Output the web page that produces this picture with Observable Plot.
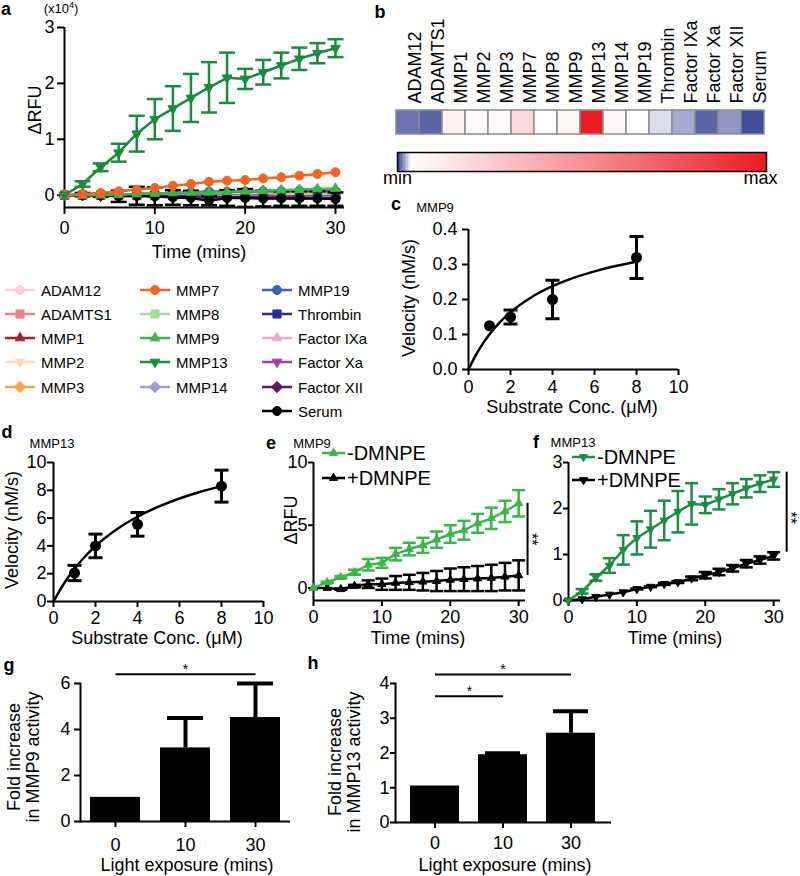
<!DOCTYPE html>
<html><head><meta charset="utf-8">
<script src="https://cdn.jsdelivr.net/npm/d3@7"></script>
<script src="https://cdn.jsdelivr.net/npm/@observablehq/plot@0.6"></script>
<style>
html,body{margin:0;padding:0;background:#fff;}
#fig{position:relative;width:800px;height:876px;overflow:hidden;font-family:"Liberation Sans",Arial,Helvetica,sans-serif;color:#000;background:#fff;}
.t{position:absolute;white-space:nowrap;}
</style></head>
<body><div id="fig"></div>
<script>
// ---------------- DATA ----------------
const times = [0,2,4,6,8,10,12,14,16,18,20,22,24,26,28,30];
const proteases = ["ADAM12","ADAMTS1","MMP1","MMP2","MMP3","MMP7","MMP8","MMP9","MMP13","MMP14","MMP19","Thrombin","Factor IXa","Factor Xa","Factor XII","Serum"];
const proteaseColors = ["#f7d2d7","#f0808a","#a3202c","#fddcc0","#f7a246","#f26522","#a8d89c","#3cb54a","#1b8a3f","#9c9cd8","#3d5fb4","#2b2e86","#eaa9d2","#a63f9f","#5e1a5e","#000000"];
const proteaseSymbols = ["circle","square","triUp","triDown","diamond","circle","square","triUp","triDown","diamond","circle","square","triUp","triDown","diamond","circle"];

// panel a: ΔRFU (x10^4) vs time
const rfuADAM12    = [0,0,0,0,0,-0.01,-0.01,-0.01,-0.02,-0.02,-0.02,-0.03,-0.03,-0.03,-0.03,-0.04];
const rfuADAMTS1   = [0,0,0,0,-0.01,-0.01,-0.02,-0.02,-0.02,-0.03,-0.03,-0.03,-0.04,-0.04,-0.04,-0.05];
const rfuMMP1      = [0,0,0,0.01,0.01,0.01,0.01,0.02,0.02,0.02,0.02,0.02,0.03,0.03,0.03,0.03];
const rfuMMP2      = [0,0,0,0,0.01,0.01,0.01,0.01,0.01,0.01,0.02,0.02,0.02,0.02,0.02,0.02];
const rfuMMP3      = [0,0,0,0,0,0.01,0.01,0.01,0.01,0.01,0.01,0.01,0.02,0.02,0.02,0.02];
const rfuMMP7      = [0,0.02,0.04,0.07,0.1,0.13,0.17,0.2,0.24,0.26,0.27,0.3,0.32,0.35,0.38,0.41];
const rfuMMP8      = [0,0,0,0,0,0,0,0,0.01,0.01,0,0,0.01,0.01,0.01,0.01];
const rfuMMP9      = [0,0,0,0.01,0.02,0.03,0.04,0.05,0.05,0.06,0.07,0.08,0.09,0.1,0.11,0.12];
const rfuMMP13     = [0,0.2,0.5,0.76,1.1,1.36,1.55,1.74,1.93,2.1,2.08,2.2,2.32,2.44,2.54,2.63];
const rfuMMP14     = [0,0,0.01,0.01,0.02,0.03,0.04,0.05,0.07,0.07,0.07,0.08,0.08,0.08,0.09,0.09];
const rfuMMP19     = [0,0,0.01,0.01,0.02,0.03,0.04,0.05,0.06,0.06,0.06,0.07,0.07,0.08,0.08,0.08];
const rfuThrombin  = [0,0,0,0,0,0,-0.01,-0.01,-0.01,-0.01,-0.01,-0.01,-0.02,-0.02,-0.02,-0.02];
const rfuFactorIXa = [0,0,0,0,-0.01,-0.01,-0.01,-0.02,-0.02,-0.02,-0.02,-0.03,-0.03,-0.03,-0.03,-0.03];
const rfuFactorXa  = [0,0,-0.01,-0.01,-0.02,-0.02,-0.03,-0.03,-0.04,-0.04,-0.05,-0.05,-0.05,-0.06,-0.06,-0.06];
const rfuFactorXII = [0,0,-0.01,-0.01,-0.01,-0.02,-0.02,-0.02,-0.03,-0.03,-0.03,-0.04,-0.04,-0.04,-0.05,-0.05];
const rfuSerum     = [0,0.01,0,-0.02,-0.01,-0.02,-0.04,-0.05,-0.1,-0.05,-0.05,-0.06,-0.06,-0.06,-0.06,-0.07];
const errMMP13     = [0,0.05,0.07,0.16,0.32,0.36,0.4,0.43,0.45,0.45,0.18,0.22,0.23,0.2,0.18,0.16];
const errSerum     = [0,0.03,0.03,0.1,0.16,0.16,0.13,0.13,0.08,0.14,0.16,0.14,0.13,0.13,0.13,0.12];

// panel b: relative activity heat map
const heatValues = [-0.028,-0.031,0.053,0.022,0.022,0.163,0,0.044,1,0.04,0,-0.007,-0.017,-0.031,-0.021,-0.036];
const heatMin = -0.04, heatMax = 1;
const heatColors = ["#2b3990","#ffffff","#ec1c24"];

// panels c, d: Michaelis-Menten
const concs = [1,2,4,8];
const mmp9Vel = [0.125,0.15,0.2,0.32];
const mmp9Err = [0,0.02,0.055,0.06];
const mmp13Vel = [2.05,4.0,5.55,8.3];
const mmp13Err = [0.55,0.85,0.85,1.15];
const fitConc = [0,0.25,0.5,1,1.5,2,3,4,5,6,7,8];
const mmp9Fit = [0,0.0304,0.0569,0.1007,0.1354,0.1636,0.2066,0.2379,0.2617,0.2804,0.2955,0.3079];
const mmp13Fit = [0,0.681,1.294,2.353,3.237,3.985,5.182,6.099,6.823,7.409,7.893,8.300];

// panel e: MMP9 ± DMNPE
const mmp9Minus    = [0,0.45,0.85,1.25,1.85,2.0,2.7,3.1,3.4,3.85,4.3,4.6,5.15,5.55,6.1,6.75];
const mmp9MinusErr = [0,0.05,0.1,0.2,0.46,0.4,0.5,0.5,0.6,0.65,0.7,0.75,0.75,0.85,0.85,1.05];
const mmp9Plus     = [0,0,-0.1,0.15,0.3,0.3,0.4,0.45,0.5,0.55,0.65,0.7,0.75,0.8,0.9,1.0];
const mmp9PlusErr  = [0,0,0.05,0.1,0.3,0.45,0.55,0.6,0.7,0.8,0.9,0.95,1.0,1.05,1.1,1.2];

// panel f: MMP13 ± DMNPE (−DMNPE = MMP13 series of panel a)
const mmp13Plus    = [0,0.03,0.08,0.13,0.18,0.25,0.3,0.36,0.4,0.48,0.55,0.62,0.7,0.8,0.88,0.97];
const mmp13PlusErr = [0,0,0,0,0,0.01,0.01,0.02,0.02,0.04,0.07,0.07,0.07,0.08,0.08,0.08];

// panels g, h: fold increase
const exposure = ["0","10","30"];
const foldMMP9 = [1.05,3.2,4.52];
const foldMMP9Err = [0,1.3,1.48];
const foldMMP13 = [1.05,1.95,2.57];
const foldMMP13Err = [0,0.04,0.63];

// ---------------- HELPERS ----------------
const fig = document.getElementById("fig");
const FONT = '"Liberation Sans", Arial, Helvetica, sans-serif';
const baseStyle = {fontFamily: FONT, fontSize: "18px", color: "black", background: "transparent", overflow: "visible"};
const plain = d => String(d);

const S = (draw) => ({draw});
const symbols = {
  circle: S((c, s) => { const r = Math.sqrt(s / Math.PI); c.moveTo(r, 0); c.arc(0, 0, r, 0, 2 * Math.PI); }),
  square: S((c, s) => { const r = Math.sqrt(s / Math.PI) * 0.9; c.rect(-r, -r, 2 * r, 2 * r); }),
  triUp: S((c, s) => { const r = Math.sqrt(s / Math.PI) * 1.25; c.moveTo(0, -r); c.lineTo(r * 0.866, r * 0.5); c.lineTo(-r * 0.866, r * 0.5); c.closePath(); }),
  triDown: S((c, s) => { const r = Math.sqrt(s / Math.PI) * 1.25; c.moveTo(0, r); c.lineTo(r * 0.866, -r * 0.5); c.lineTo(-r * 0.866, -r * 0.5); c.closePath(); }),
  diamond: S((c, s) => { const r = Math.sqrt(s / Math.PI) * 1.25; c.moveTo(0, -r); c.lineTo(r, 0); c.lineTo(0, r); c.lineTo(-r, 0); c.closePath(); }),
  cap: S((c, s) => { const r = Math.sqrt(s / Math.PI); c.moveTo(-r, 0); c.lineTo(r, 0); })
};

function addPlot(opts, left, top) {
  const el = Plot.plot({...opts, style: baseStyle});
  el.style.position = "absolute";
  el.style.left = left + "px";
  el.style.top = top + "px";
  fig.appendChild(el);
  return el;
}

function label(html, x, y, {size = 18, weight = 400, rotate = 0, anchor = "middle", lineHeight = 1, align = "center"} = {}) {
  const d = document.createElement("div");
  d.className = "t";
  d.innerHTML = html;
  Object.assign(d.style, {left: x + "px", top: y + "px", fontSize: size + "px", fontWeight: weight, lineHeight: String(lineHeight), textAlign: align});
  const tx = anchor === "start" ? "0%" : anchor === "end" ? "-100%" : "-50%";
  d.style.transform = `translate(${tx},-50%)` + (rotate ? ` rotate(${rotate}deg)` : "");
  fig.appendChild(d);
}

function swatch(x, y, color, symbol, len, r, sw) {
  const s = document.createElementNS("http://www.w3.org/2000/svg", "svg");
  s.setAttribute("width", len); s.setAttribute("height", 16);
  Object.assign(s.style, {position: "absolute", left: x + "px", top: (y - 8) + "px", overflow: "visible"});
  s.innerHTML = `<line x1="0" x2="${len}" y1="8" y2="8" stroke="${color}" stroke-width="${sw}"/>` +
    `<path transform="translate(${len / 2},8)" d="${d3.symbol(symbol, r * r * Math.PI)()}" fill="${color}" stroke="${color}" stroke-width="1"/>`;
  fig.appendChild(s);
}

function seriesMarks(rows, color, symbol, {r = 4.5, capR = 8, sw = 2.5, x = "t"} = {}) {
  const withErr = rows.filter(d => d.e > 0);
  return [
    Plot.ruleX(withErr, {x, y1: d => d.v - d.e, y2: d => d.v + d.e, stroke: color, strokeWidth: sw}),
    Plot.dot(withErr, {x, y: d => d.v + d.e, symbol: symbols.cap, r: capR, fill: "none", stroke: color, strokeWidth: sw}),
    Plot.dot(withErr, {x, y: d => d.v - d.e, symbol: symbols.cap, r: capR, fill: "none", stroke: color, strokeWidth: sw}),
    Plot.line(rows, {x, y: "v", stroke: color, strokeWidth: sw}),
    Plot.dot(rows, {x, y: "v", symbol, r, fill: color, stroke: color, strokeWidth: 1})
  ];
}
const rowsOf = (vals, errs) => times.map((t, i) => ({t, v: vals[i], e: errs ? errs[i] : 0}));

// ---------------- PANEL a ----------------
const rfuSeries = [rfuADAM12,rfuADAMTS1,rfuMMP1,rfuMMP2,rfuMMP3,rfuMMP7,rfuMMP8,rfuMMP9,rfuMMP13,rfuMMP14,rfuMMP19,rfuThrombin,rfuFactorIXa,rfuFactorXa,rfuFactorXII,rfuSerum];
const rfuErrors = proteases.map(n => n === "MMP13" ? errMMP13 : n === "Serum" ? errSerum : null);
const aOrder = [0,1,2,3,4,6,9,10,11,12,13,14,15,7,5,8];

addPlot({
  width: 360, height: 250, marginLeft: 64, marginRight: 16, marginTop: 27, marginBottom: 43,
  x: {domain: [0, 31]}, y: {domain: [-0.22, 3]},
  marks: [
    Plot.ruleY([-0.22], {strokeWidth: 2}),
    Plot.ruleX([0], {strokeWidth: 2}),
    Plot.axisX({ticks: [0,10,20,30], tickFormat: plain, tickSize: 7, tickPadding: 7, strokeWidth: 2, label: null}),
    Plot.axisY({ticks: [0,1,2,3], tickFormat: plain, tickSize: 7, tickPadding: 3, strokeWidth: 2, label: null}),
    ...aOrder.flatMap(k => seriesMarks(rowsOf(rfuSeries[k], rfuErrors[k]), proteaseColors[k], symbols[proteaseSymbols[k]], {r: 4.5, capR: 8}))
  ]
}, 0, 0);
label("(x10<span style='font-size:9px;position:relative;top:-5px'>4</span>)", 61, 8, {size: 13});
label("ΔRFU", 35, 110, {rotate: -90});
label("Time (mins)", 199, 252);
label("a", 6, 9, {weight: 700});

// legend of panel a
const legendCols = [5, 140, 262];
const legendRowY = [290, 314, 338, 362, 387, 411];
proteases.forEach((name, k) => {
  const col = k < 5 ? 0 : k < 10 ? 1 : 2;
  const row = k < 5 ? k : k < 10 ? k - 5 : k - 10;
  swatch(legendCols[col], legendRowY[row], proteaseColors[k], symbols[proteaseSymbols[k]], 30, 4.5, 2.5);
  label(name, legendCols[col] + 36, legendRowY[row], {size: 15, anchor: "start"});
});

// ---------------- PANEL b ----------------
const colorScale = {type: "linear", domain: [heatMin, 0, heatMax], range: heatColors, interpolate: "rgb"};
const heatRows = proteases.map((name, i) => ({name, value: heatValues[i]}));
addPlot({
  width: 400, height: 140, marginLeft: 13, marginRight: 13, marginTop: 110, marginBottom: 6,
  x: {type: "band", domain: proteases, padding: 0, axis: null},
  color: colorScale,
  marks: [
    Plot.cell(heatRows, {x: "name", fill: "value", stroke: "#8c8c8c", strokeWidth: 1.5}),
    Plot.text(proteases, {x: d => d, frameAnchor: "top", dy: -7, rotate: -90, textAnchor: "start", fontSize: 18, fontFamily: FONT})
  ]
}, 380, 0);
label("b", 380, 12, {weight: 700});

// colour bar
const rampN = 240;
const ramp = d3.range(rampN).map(i => ({a: heatMin + (heatMax - heatMin) * i / rampN, b: heatMin + (heatMax - heatMin) * (i + 1.2) / rampN}));
addPlot({
  width: 400, height: 60, marginLeft: 17, marginRight: 14, marginTop: 12, marginBottom: 29,
  x: {domain: [heatMin, heatMax], axis: null},
  color: colorScale,
  marks: [
    Plot.rect(ramp, {x1: "a", x2: "b", fill: d => (d.a + d.b) / 2, shapeRendering: "crispEdges"}),
    Plot.frame({stroke: "black", strokeWidth: 1.5}),
    Plot.text(["min"], {x: heatMin, frameAnchor: "bottom", dy: 12, fontSize: 18}),
    Plot.text(["max"], {x: heatMax, frameAnchor: "bottom", dy: 12, dx: -6, fontSize: 18})
  ]
}, 380, 140);

// ---------------- PANEL c ----------------
const cRows = concs.map((s, i) => ({t: s, v: mmp9Vel[i], e: mmp9Err[i]}));
const cFit = fitConc.map((s, i) => ({t: s, v: mmp9Fit[i]}));
const cErr = cRows.filter(d => d.e > 0);
addPlot({
  width: 300, height: 220, marginLeft: 68, marginRight: 22, marginTop: 29, marginBottom: 51,
  x: {domain: [0, 10]}, y: {domain: [0, 0.4]},
  marks: [
    Plot.ruleY([0], {strokeWidth: 2}),
    Plot.ruleX([0], {strokeWidth: 2}),
    Plot.axisX({ticks: [0,2,4,6,8,10], tickFormat: plain, tickSize: 6, tickPadding: 5, strokeWidth: 2, label: null}),
    Plot.axisY({ticks: [0,0.1,0.2,0.3,0.4], tickFormat: d3.format(".1f"), tickSize: 6, tickPadding: 5, strokeWidth: 2, label: null}),
    Plot.line(cFit, {x: "t", y: "v", strokeWidth: 2.5, curve: "monotone-x"}),
    Plot.ruleX(cErr, {x: "t", y1: d => d.v - d.e, y2: d => d.v + d.e, strokeWidth: 3}),
    Plot.dot(cErr, {x: "t", y: d => d.v + d.e, symbol: symbols.cap, r: 7, fill: "none", stroke: "black", strokeWidth: 3}),
    Plot.dot(cErr, {x: "t", y: d => d.v - d.e, symbol: symbols.cap, r: 7, fill: "none", stroke: "black", strokeWidth: 3}),
    Plot.dot(cRows, {x: "t", y: "v", r: 5.5, fill: "black"})
  ]
}, 400, 200);
label("c", 396, 204, {weight: 700});
label("MMP9", 435, 207, {size: 13});
label("Velocity (nM/s)", 409, 298, {rotate: -90});
label("Substrate Conc. (μM)", 572, 407);

// ---------------- PANEL d ----------------
const dRows = concs.map((s, i) => ({t: s, v: mmp13Vel[i], e: mmp13Err[i]}));
const dFit = fitConc.map((s, i) => ({t: s, v: mmp13Fit[i]}));
addPlot({
  width: 280, height: 200, marginLeft: 53, marginRight: 17, marginTop: 22, marginBottom: 39,
  x: {domain: [0, 10]}, y: {domain: [0, 10]},
  marks: [
    Plot.ruleY([0], {strokeWidth: 2}),
    Plot.ruleX([0], {strokeWidth: 2}),
    Plot.axisX({ticks: [0,2,4,6,8,10], tickFormat: plain, tickSize: 6, tickPadding: 4, strokeWidth: 2, label: null}),
    Plot.axisY({ticks: [0,2,4,6,8,10], tickFormat: plain, tickSize: 6, tickPadding: 1, strokeWidth: 2, label: null}),
    Plot.line(dFit, {x: "t", y: "v", strokeWidth: 2.5, curve: "monotone-x"}),
    Plot.ruleX(dRows, {x: "t", y1: d => d.v - d.e, y2: d => d.v + d.e, strokeWidth: 3}),
    Plot.dot(dRows, {x: "t", y: d => d.v + d.e, symbol: symbols.cap, r: 7, fill: "none", stroke: "black", strokeWidth: 3}),
    Plot.dot(dRows, {x: "t", y: d => d.v - d.e, symbol: symbols.cap, r: 7, fill: "none", stroke: "black", strokeWidth: 3}),
    Plot.dot(dRows, {x: "t", y: "v", r: 5.5, fill: "black"})
  ]
}, 0, 440);
label("d", 7, 432, {weight: 700});
label("MMP13", 52, 443, {size: 13});
label("Velocity (nM/s)", 12, 530, {rotate: -90});
label("Substrate Conc. (μM)", 157, 638);

// ---------------- PANEL e ----------------
const eGreen = "#3cb54a";
addPlot({
  width: 280, height: 200, marginLeft: 53, marginRight: 15, marginTop: 22, marginBottom: 40,
  x: {domain: [0, 31]}, y: {domain: [-1, 10]},
  marks: [
    Plot.ruleY([-1], {strokeWidth: 2}),
    Plot.ruleX([0], {strokeWidth: 2}),
    Plot.axisX({ticks: [0,10,20,30], tickFormat: plain, tickSize: 6, tickPadding: 4, strokeWidth: 2, label: null}),
    Plot.axisY({ticks: [0,5,10], tickFormat: plain, tickSize: 5, tickPadding: 1, strokeWidth: 2, label: null}),
    ...seriesMarks(rowsOf(mmp9Plus, mmp9PlusErr), "black", symbols.triUp, {r: 3.8, capR: 6.5, sw: 2.5}),
    ...seriesMarks(rowsOf(mmp9Minus, mmp9MinusErr), eGreen, symbols.triUp, {r: 3.8, capR: 6.5, sw: 2.5}),
    Plot.ruleX([31.3], {y1: mmp9Minus[15], y2: mmp9Plus[15], strokeWidth: 2}),
    Plot.text(["**"], {x: 31.3, y: (mmp9Minus[15] + mmp9Plus[15]) / 2, rotate: 90, dx: 4, fontSize: 16})
  ]
}, 260, 440);
label("e", 271, 443, {weight: 700});
label("MMP9", 312, 443, {size: 13});
label("ΔRFU", 291, 520, {rotate: -90});
label("Time (mins)", 418, 638);
swatch(322, 453, eGreen, symbols.triUp, 23, 3.8, 2.5);
label("-DMNPE", 347, 453, {size: 20, anchor: "start"});
swatch(322, 478, "black", symbols.triUp, 23, 3.8, 2.5);
label("+DMNPE", 347, 478, {size: 20, anchor: "start"});

// ---------------- PANEL f ----------------
const fGreen = "#1e8c45";
addPlot({
  width: 270, height: 200, marginLeft: 38, marginRight: 20, marginTop: 22, marginBottom: 40,
  x: {domain: [0, 31]}, y: {domain: [0, 3]},
  marks: [
    Plot.ruleY([0], {strokeWidth: 2}),
    Plot.ruleX([0], {strokeWidth: 2}),
    Plot.axisX({ticks: [0,10,20,30], tickFormat: plain, tickSize: 6, tickPadding: 4, strokeWidth: 2, label: null}),
    Plot.axisY({ticks: [0,1,2,3], tickFormat: plain, tickSize: 5, tickPadding: 1, strokeWidth: 2, label: null}),
    ...seriesMarks(rowsOf(mmp13Plus, mmp13PlusErr), "black", symbols.triDown, {r: 3.8, capR: 6.5, sw: 2.5}),
    ...seriesMarks(rowsOf(rfuMMP13, errMMP13), fGreen, symbols.triDown, {r: 3.8, capR: 6.5, sw: 2.5}),
    Plot.ruleX([31.9], {y1: rfuMMP13[15] + errMMP13[15], y2: mmp13Plus[15] + mmp13PlusErr[15], strokeWidth: 2}),
    Plot.text(["**"], {x: 31.9, y: (rfuMMP13[15] + mmp13Plus[15]) / 2, rotate: 90, dx: 3, fontSize: 16})
  ]
}, 530, 440);
label("f", 536, 442, {weight: 700});
label("MMP13", 573, 442, {size: 13});
label("Time (mins)", 675, 638);
swatch(572, 457, fGreen, symbols.triDown, 23, 3.8, 2.5);
label("-DMNPE", 597, 457, {size: 20, anchor: "start"});
swatch(572, 480, "black", symbols.triDown, 23, 3.8, 2.5);
label("+DMNPE", 597, 480, {size: 20, anchor: "start"});

// ---------------- PANEL g ----------------
const gRows = exposure.map((c, i) => ({c, v: foldMMP9[i], e: foldMMP9Err[i]}));
const gErr = gRows.filter(d => d.e > 0);
addPlot({
  width: 300, height: 216, marginLeft: 80, marginRight: 10, marginTop: 23, marginBottom: 55,
  x: {type: "band", domain: exposure, paddingInner: 0.2857, paddingOuter: 0.1428},
  y: {domain: [0, 6]},
  marks: [
    Plot.barY(gRows, {x: "c", y: "v", fill: "black"}),
    Plot.ruleX(gErr, {x: "c", y1: "v", y2: d => d.v + d.e, strokeWidth: 4}),
    Plot.tickY(gErr, {x: "c", y: d => d.v + d.e, strokeWidth: 4, inset: 7}),
    Plot.ruleY([0], {strokeWidth: 2}),
    Plot.frame({anchor: "left", strokeWidth: 2}),
    Plot.axisX({tickSize: 6, tickPadding: 11, strokeWidth: 2, label: null}),
    Plot.axisY({ticks: [0,2,4,6], tickFormat: plain, tickSize: 6, tickPadding: 4, strokeWidth: 2, label: null}),
    Plot.link([0], {x1: () => "0", x2: () => "30", y1: () => 6.4, y2: () => 6.4, strokeWidth: 2}),
    Plot.text(["*"], {x: () => "10", y: () => 6.4, dy: -5, fontSize: 14})
  ]
}, 0, 660);
label("g", 9, 665, {weight: 700});
label("Fold increase<br>in MMP9 activity", 24, 757, {rotate: -90, lineHeight: 1.05});
label("Light exposure (mins)", 187, 865);

// ---------------- PANEL h ----------------
const hRows = exposure.map((c, i) => ({c, v: foldMMP13[i], e: foldMMP13Err[i]}));
const hErr = hRows.filter(d => d.e > 0);
addPlot({
  width: 310, height: 216, marginLeft: 85, marginRight: 9, marginTop: 23, marginBottom: 54,
  x: {type: "band", domain: exposure, paddingInner: 0.275, paddingOuter: 0.203},
  y: {domain: [0, 4]},
  marks: [
    Plot.barY(hRows, {x: "c", y: "v", fill: "black"}),
    Plot.ruleX(hErr, {x: "c", y1: "v", y2: d => d.v + d.e, strokeWidth: 4}),
    Plot.tickY(hErr, {x: "c", y: d => d.v + d.e, strokeWidth: 4, inset: 7}),
    Plot.ruleY([0], {strokeWidth: 2}),
    Plot.frame({anchor: "left", strokeWidth: 2}),
    Plot.axisX({tickSize: 6, tickPadding: 8, strokeWidth: 2, label: null}),
    Plot.axisY({ticks: [0,1,2,3,4], tickFormat: plain, tickSize: 5, tickPadding: 1, strokeWidth: 2, label: null}),
    Plot.link([0], {x1: () => "0", x2: () => "30", y1: () => 4.26, y2: () => 4.26, strokeWidth: 2}),
    Plot.text(["*"], {x: () => "10", y: () => 4.26, dy: -5, fontSize: 14}),
    Plot.link([0], {x1: () => "0", x2: () => "10", y1: () => 3.63, y2: () => 3.63, strokeWidth: 2}),
    Plot.text(["*"], {x: () => "0", y: () => 3.63, dx: 34.5, dy: -5, fontSize: 14})
  ]
}, 310, 660);
label("h", 313, 663, {weight: 700});
label("Fold increase<br>in MMP13 activity", 345, 762, {rotate: -90, lineHeight: 1.05});
label("Light exposure (mins)", 505, 865);
</script>
</body></html>
